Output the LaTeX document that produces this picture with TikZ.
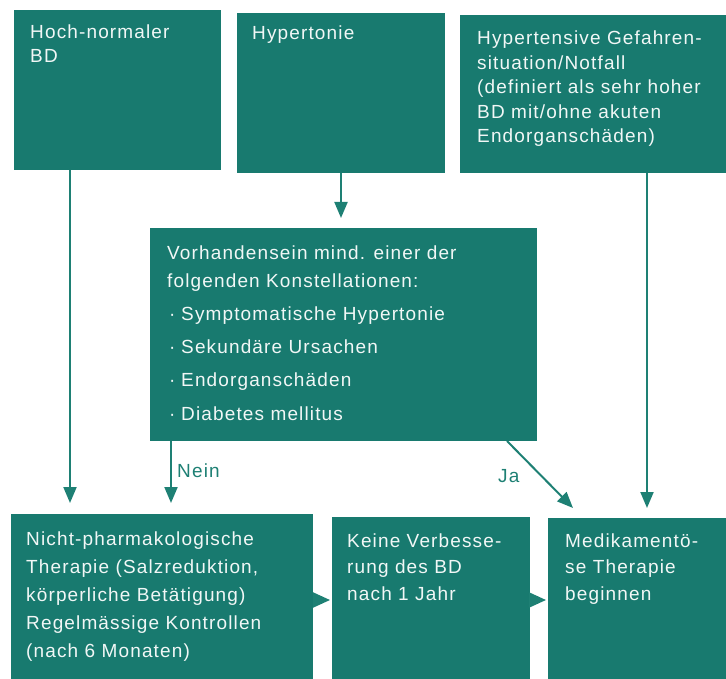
\documentclass[tikz,border=0pt]{standalone}
\usepackage{fontspec}
\setmainfont[LetterSpace=6]{Liberation Sans}
\usetikzlibrary{arrows.meta,calc}
\definecolor{tealbox}{RGB}{24,122,111}
\definecolor{tealarr}{RGB}{30,128,116}
\newcommand\mlines[1]{\begin{tabular}[t]{@{}l@{}}#1\end{tabular}}
\newcommand\bul{\makebox[14pt][l]{\hspace{2pt}·}}
\begin{document}
\begin{tikzpicture}[x=1pt,y=-1pt,
  box/.style={fill=tealbox, draw=none, inner sep=0pt, outer sep=0pt, anchor=north west},
  txt/.style={text=white!94!tealbox, inner sep=0pt, anchor=base west},
  lbl/.style={text=tealarr, inner sep=0pt, anchor=base west, font=\fontsize{19}{22}\selectfont},
  arr/.style={draw=tealarr, line width=2pt, -{Triangle[length=16pt,width=13pt]}},
  harr/.style={draw=tealarr, line width=2pt, -{Triangle[length=17pt,width=15pt]}}]
\useasboundingbox (0,0) rectangle (726,679);

% boxes
\node[box, minimum width=207pt, minimum height=160pt] (b1) at (14,10) {};
\node[box, minimum width=208pt, minimum height=160pt] (b2) at (237,13) {};
\node[box, minimum width=266pt, minimum height=158pt] (b3) at (460,15) {};
\node[box, minimum width=387pt, minimum height=213pt] (bM) at (150,228) {};
\node[box, minimum width=302pt, minimum height=165pt] (bA) at (11,514) {};
\node[box, minimum width=198pt, minimum height=162pt] (bB) at (332,517) {};
\node[box, minimum width=178pt, minimum height=161pt] (bC) at (548,518) {};

% texts
\node[txt, font=\fontsize{19}{24}\selectfont] (t1) at (30,39) {\mlines{Hoch-normaler\\BD}};
\node[txt, font=\fontsize{19}{24}\selectfont] (t2) at (252,40) {Hypertonie};
\node[txt, font=\fontsize{19}{24.5}\selectfont] (t3) at (477,45)
  {\mlines{Hypertensive Gefahren-\\situation/Notfall\\(definiert als sehr hoher\\BD mit/ohne akuten\\Endorganschäden)}};
\node[txt, font=\fontsize{19}{28}\selectfont] (tM) at (167,260)
  {\mlines{Vorhandensein mind. einer der\\folgenden Konstellationen:\\[5pt]
   \bul Symptomatische Hypertonie\\[5pt]
   \bul Sekundäre Ursachen\\[5pt]
   \bul Endorganschäden\\[6pt]
   \bul Diabetes mellitus}};
\node[txt, font=\fontsize{19}{28}\selectfont] (tA) at (26,545)
  {\mlines{Nicht-pharmakologische\\Therapie (Salzreduktion,\\körperliche Betätigung)\\Regelmässige Kontrollen\\(nach 6 Monaten)}};
\node[txt, font=\fontsize{19}{26.5}\selectfont] (tB) at (347,547)
  {\mlines{Keine Verbesse-\\rung des BD\\nach 1 Jahr}};
\node[txt, font=\fontsize{19}{26.5}\selectfont] (tC) at (565,547)
  {\mlines{Medikamentö-\\se Therapie\\beginnen}};

% arrows
\draw[arr, shorten >=11pt] ([xshift=56pt]b1.south west) -- ([xshift=56pt]b1.south west |- bA.north);
\draw[arr, shorten >=10pt] ([xshift=104pt]b2.south west) -- ([xshift=104pt]b2.south west |- bM.north);
\draw[arr, shorten >=10pt] ([xshift=187pt]b3.south west) -- ([xshift=187pt]b3.south west |- bC.north);
\draw[arr, shorten >=11pt] ([xshift=21pt]bM.south west) -- ([xshift=21pt]bM.south west |- bA.north);
\draw[arr] ([xshift=-30pt]bM.south east) -- ([xshift=25pt,yshift=10pt]bC.north west);
\draw[harr, shorten >=2pt] ([yshift=-86pt]bA.north east) -- ([yshift=-86pt]bA.north east -| bB.west);
\draw[harr, shorten >=2pt] ([yshift=-83pt]bB.north east) -- ([yshift=-83pt]bB.north east -| bC.west);

% labels
\node[lbl] (nein) at (177,477) {Nein};
\node[lbl] (ja) at (498,482) {Ja};
\end{tikzpicture}
\end{document}
